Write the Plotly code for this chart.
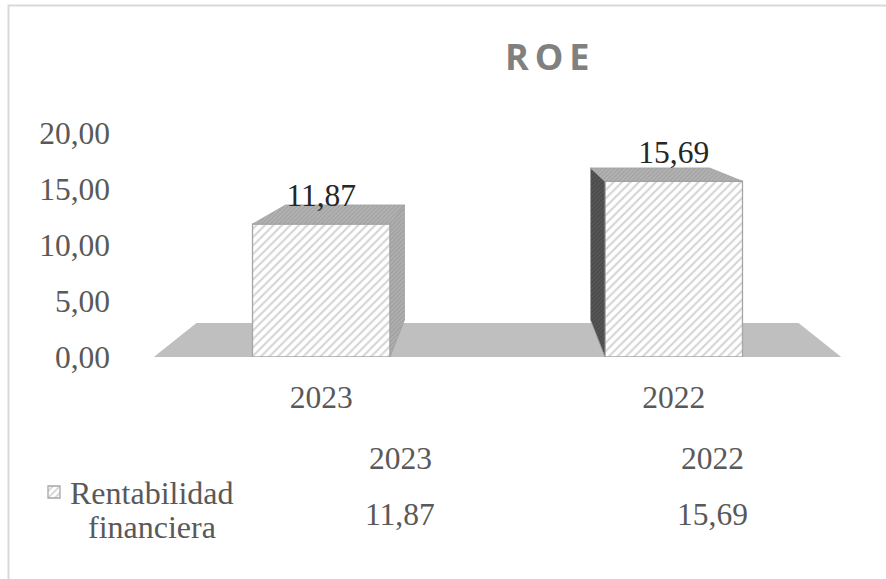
import plotly.graph_objects as go

# ---------------- data ----------------
categories = ["2023", "2022"]
roe_values = [11.87, 15.69]
series_name = "Rentabilidad financiera"
y_tick_values = [0, 5, 10, 15, 20]
chart_title = "ROE"

# ---------------- layout geometry (styles) ----------------
W, H = 886, 579
ML, MR, MT, MB = 145, 36, 133, 222
PW = W - ML - MR
PH = H - MT - MB


def px_x(px):
    return (px - ML) / PW


def px_y(py):
    return (H - MB - py) / PH


xpos = list(range(len(categories)))
XR = [-0.5, len(categories) - 0.5]
YR = [0, 20]
VX = sum(xpos) / len(xpos)     # vanishing point (perspective)
VY = 24.5
K_BAR = 0.135
K_FLOOR = 0.124
BAR_W = 0.39

SERIF = "Liberation Serif, Times New Roman, serif"
AX_COL = "#595959"
FS = 31.5


def back(x, y, k):
    return x + k * (VX - x), y + k * (VY - y)


def fmt(v):
    return f"{v:.2f}".replace(".", ",")


fig = go.Figure()

# floor (drawn below traces)
fl, fr = XR[0] + 0.025, XR[1] - 0.025
bl = back(fl, 0, K_FLOOR)
br = back(fr, 0, K_FLOOR)
floor_path = f"M{fl},0 L{fr},0 L{br[0]},{br[1]} L{bl[0]},{bl[1]} Z"
shapes = [dict(type="path", path=floor_path, xref="x", yref="y",
               fillcolor="#bfbfbf", line=dict(width=0), layer="below")]

# front faces
fig.add_trace(go.Bar(
    x=xpos, y=roe_values, width=BAR_W, name=" ",
    marker=dict(color="white",
                line=dict(color="#a6a6a6", width=1.3),
                pattern=dict(shape="/", fgcolor="#a9a9a9", bgcolor="white",
                             size=6, solidity=0.35)),
    showlegend=True, hoverinfo="skip"))

# side and top faces
for i, v in zip(xpos, roe_values):
    xl, xr = i - BAR_W / 2, i + BAR_W / 2
    if i < VX:
        xs = xr
        side_bg, side_fg = "#b0b0b0", "#8a8a8a"
    else:
        xs = xl
        side_bg, side_fg = "#4a4a4a", "#6a6a6a"
    b_top = back(xs, v, K_BAR)
    b_bot = back(xs, 0, K_BAR)
    fig.add_trace(go.Scatter(
        x=[xs, xs, b_top[0], b_bot[0], xs], y=[0, v, b_top[1], b_bot[1], 0],
        mode="lines", fill="toself", line=dict(color="#a0a0a0", width=0.8),
        fillcolor=side_bg,
        fillpattern=dict(shape="/", fgcolor=side_fg, bgcolor=side_bg, size=3, solidity=0.4),
        showlegend=False, hoverinfo="skip"))
    bL = back(xl, v, K_BAR)
    bR = back(xr, v, K_BAR)
    fig.add_trace(go.Scatter(
        x=[xl, xr, bR[0], bL[0], xl], y=[v, v, bR[1], bL[1], v],
        mode="lines", fill="toself", line=dict(color="#a0a0a0", width=0.8),
        fillcolor="#b3b3b3",
        fillpattern=dict(shape="/", fgcolor="#8f8f8f", bgcolor="#b3b3b3", size=3, solidity=0.4),
        showlegend=False, hoverinfo="skip"))

# data labels
fig.add_trace(go.Scatter(
    x=xpos, y=[v + 2.3 for v in roe_values], mode="text",
    text=[fmt(v) for v in roe_values],
    textfont=dict(family=SERIF, size=FS, color="#262626"),
    showlegend=False, hoverinfo="skip", cliponaxis=False))

annotations = []
# title
annotations.append(dict(text="<b>" + "\u2009".join(chart_title) + "</b>",
                        x=px_x(547), y=px_y(56), xref="paper", yref="paper",
                        showarrow=False, xanchor="center", yanchor="middle",
                        font=dict(family="Open Sans", size=36, color="#808080")))
# data table
for i, (c, v) in enumerate(zip(categories, roe_values)):
    cx = [400, 712][i]
    annotations.append(dict(text=c, x=px_x(cx), y=px_y(458), xref="paper", yref="paper",
                            showarrow=False, xanchor="center", yanchor="middle",
                            font=dict(family=SERIF, size=FS, color=AX_COL)))
    annotations.append(dict(text=fmt(v), x=px_x(cx), y=px_y(514), xref="paper", yref="paper",
                            showarrow=False, xanchor="center", yanchor="middle",
                            font=dict(family=SERIF, size=FS, color=AX_COL)))
# legend text (two centred lines)
for j, word in enumerate(series_name.split(" ")):
    annotations.append(dict(text=word, x=px_x(152), y=px_y(493 + 34 * j),
                            xref="paper", yref="paper",
                            showarrow=False, xanchor="center", yanchor="middle",
                            font=dict(family=SERIF, size=32, color=AX_COL)))

# chart border
shapes.append(dict(type="path", xref="paper", yref="paper",
                   path=f"M{px_x(W + 5)},{px_y(5.5)} L{px_x(8.5)},{px_y(5.5)} L{px_x(8.5)},{px_y(H + 5)}",
                   line=dict(color="#d9d9d9", width=2), layer="above"))

fig.update_layout(
    width=W, height=H,
    margin=dict(l=ML, r=MR, t=MT, b=MB, pad=0),
    paper_bgcolor="white", plot_bgcolor="white",
    separators=",.",
    showlegend=True,
    legend=dict(x=px_x(34), y=px_y(492), xanchor="left", yanchor="middle",
                font=dict(size=10), bgcolor="rgba(0,0,0,0)", borderwidth=0,
                itemclick=False, itemdoubleclick=False),
    xaxis=dict(range=XR, tickvals=xpos, ticktext=categories, showgrid=False,
               zeroline=False, showline=False, ticks="",
               tickfont=dict(family=SERIF, size=FS, color=AX_COL),
               ticklabelstandoff=18, fixedrange=True),
    yaxis=dict(range=YR, tickvals=y_tick_values, tickformat=".2f", showgrid=False,
               zeroline=False, showline=False, ticks="",
               tickfont=dict(family=SERIF, size=FS, color=AX_COL),
               ticklabelstandoff=34, fixedrange=True),
    shapes=shapes, annotations=annotations,
)

fig.write_html("out.html", config={"displayModeBar": False},
               post_script="document.body.style.margin='0';document.body.style.overflow='hidden';")
